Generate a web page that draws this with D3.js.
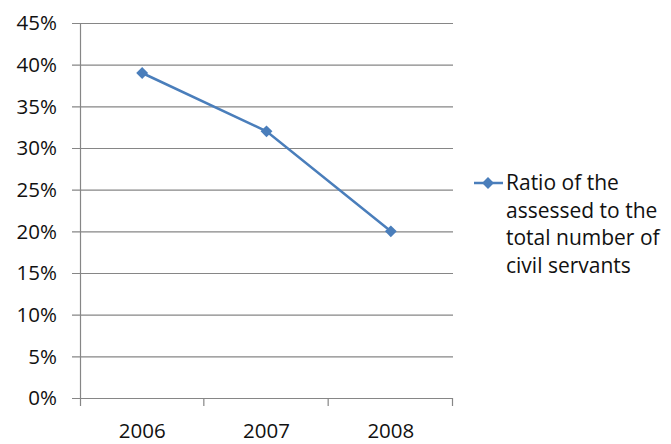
<!DOCTYPE html>
<html>
<head>
<meta charset="UTF-8" />
<title>Ratio of assessed civil servants</title>
<script src="https://d3js.org/d3.v7.min.js"></script>
<style>
  body { margin: 0; background: #fff; }
  svg text { font-family: "Open Sans", sans-serif; fill: #111; }
</style>
</head>
<body>
<svg id="chart" width="671" height="444"></svg>
<script>
const years = ['2006', '2007', '2008'];
const ratio = [39, 32, 20];
const yTicks = [0, 5, 10, 15, 20, 25, 30, 35, 40, 45];
const legendLines = ['Ratio of the', 'assessed to the', 'total number of', 'civil servants'];

const svg = d3.select('#chart');
const plotLeft = 80, plotRight = 453, plotTop = 23, plotBottom = 398;
const blue = '#4a7ebb', grid = '#868686';

const x = d3.scaleBand().domain(years).range([plotLeft, plotRight]);
const y = d3.scaleLinear().domain([0, 45]).range([plotBottom, plotTop]);

// gridlines + y ticks
svg.append('g').selectAll('line').data(yTicks).join('line')
  .attr('x1', plotLeft - 8).attr('x2', plotRight)
  .attr('y1', d => y(d) + 0.5).attr('y2', d => y(d) + 0.5)
  .attr('stroke', grid).attr('stroke-width', 1.2);

svg.append('g').selectAll('text').data(yTicks).join('text')
  .attr('x', 57).attr('y', d => y(d)).attr('dy', '0.35em')
  .attr('text-anchor', 'end').attr('font-size', 20.5)
  .text(d => d + '%');

// y axis line
svg.append('line').attr('x1', plotLeft + 0.5).attr('x2', plotLeft + 0.5)
  .attr('y1', plotTop).attr('y2', plotBottom + 8)
  .attr('stroke', grid).attr('stroke-width', 1.2);

// x ticks between categories
const xEdges = years.map(d => x(d)).concat([plotRight]);
svg.append('g').selectAll('line').data(xEdges.slice(1)).join('line')
  .attr('x1', d => d - 0.5).attr('x2', d => d - 0.5)
  .attr('y1', plotBottom).attr('y2', plotBottom + 8)
  .attr('stroke', grid).attr('stroke-width', 1.2);

svg.append('g').selectAll('text').data(years).join('text')
  .attr('x', d => x(d) + x.bandwidth() / 2).attr('y', 438)
  .attr('text-anchor', 'middle').attr('font-size', 20.5)
  .text(d => d);

// series
const line = d3.line()
  .x((d, i) => x(years[i]) + x.bandwidth() / 2)
  .y(d => y(d));

svg.append('path').datum(ratio)
  .attr('d', line).attr('fill', 'none')
  .attr('stroke', blue).attr('stroke-width', 2.5);

const diamond = d3.symbol().type(d3.symbolDiamond2).size(90);
svg.append('g').selectAll('path').data(ratio).join('path')
  .attr('d', diamond)
  .attr('transform', (d, i) => `translate(${x(years[i]) + x.bandwidth() / 2},${y(d)})`)
  .attr('fill', blue);

// legend
const lg = svg.append('g');
lg.append('line').attr('x1', 474).attr('x2', 503).attr('y1', 183).attr('y2', 183)
  .attr('stroke', blue).attr('stroke-width', 2.5);
lg.append('path').attr('d', diamond).attr('transform', 'translate(488,183)').attr('fill', blue);
lg.selectAll('text').data(legendLines).join('text')
  .attr('x', 506).attr('y', (d, i) => 183 + i * 27.5).attr('dy', '0.35em')
  .attr('font-size', 21)
  .text(d => d);
</script>
</body>
</html>
